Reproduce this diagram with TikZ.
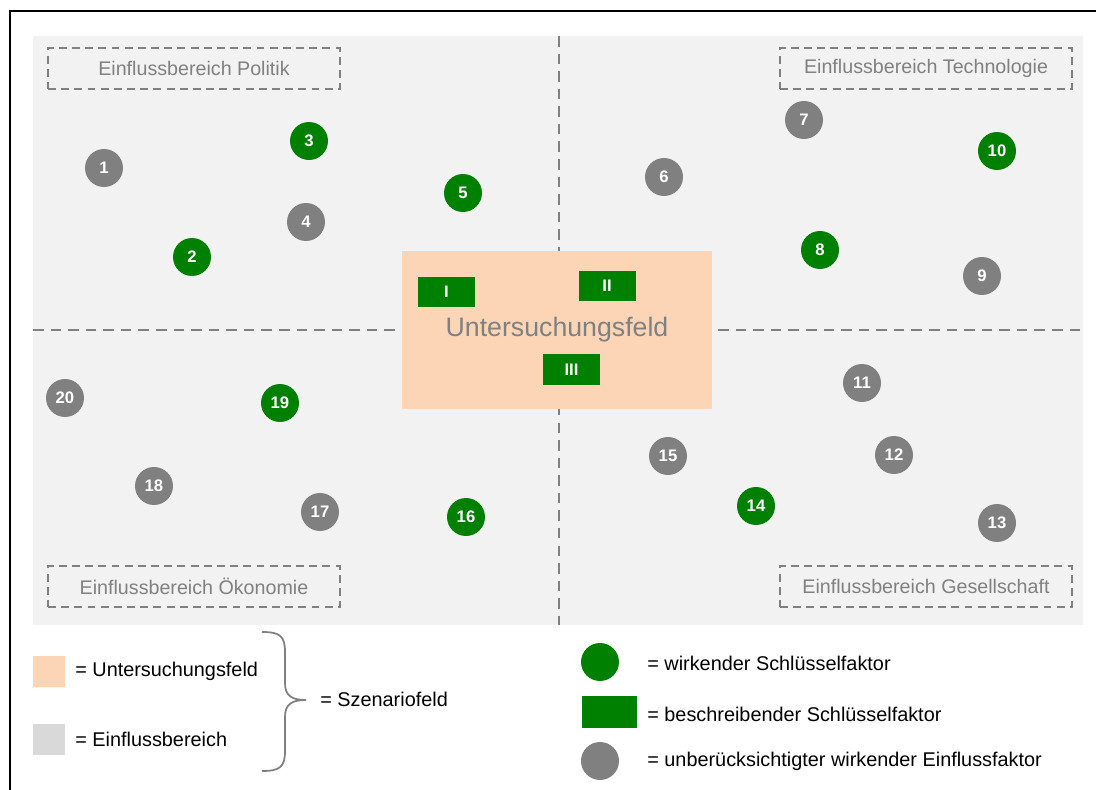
\documentclass[tikz,border=0pt]{standalone}
\usepackage{fontspec}
\setmainfont{Liberation Sans}
\definecolor{kgreen}{HTML}{008000}
\definecolor{kgrey}{HTML}{808080}
\definecolor{bggrey}{HTML}{F2F2F2}
\definecolor{peach}{HTML}{FBD5B5}
\definecolor{lgrey}{HTML}{D9D9D9}

\begin{document}
\begin{tikzpicture}[x=0.02cm, y=-0.02cm,
  factor/.style={circle, minimum size=0.76cm, inner sep=0pt, text=white,
    font=\fontsize{9.5}{10}\selectfont\bfseries},
  szenario/.style={fill=kgreen, minimum width=1.14cm, minimum height=0.62cm,
    inner sep=0pt, text=white, font=\fontsize{9.5}{10}\selectfont\bfseries},
  bereich/.style={draw=kgrey, line width=1pt, dash pattern=on 4.5pt off 3pt,
    minimum width=5.84cm, minimum height=0.82cm, text=kgrey,
    font=\fontsize{11.2}{13}\selectfont},
  legtext/.style={anchor=west, inner sep=0pt, font=\fontsize{11.3}{13}\selectfont}]
  \useasboundingbox (0,0) rectangle (1096,790);
  % frame and background
  \draw[line width=1.7pt] (10,790) -- (10,11) -- (1096,11);
  \fill[bggrey] (33,36) rectangle (1083,625);
  \draw[kgrey, line width=1.3pt, dash pattern=on 6pt off 4pt] (559,36) -- (559,625);
  \draw[kgrey, line width=1.3pt, dash pattern=on 6pt off 4pt] (33,330) -- (1083,330);
  % Einflussbereiche
  \node[bereich] (politik) at (194,68.5) {Einflussbereich Politik};
  \node[bereich] (technologie) at (926,68.5) {Einflussbereich Technologie};
  \node[bereich] (oekonomie) at (194,586.5) {Einflussbereich Ökonomie};
  \node[bereich] (gesellschaft) at (926,586.5) {Einflussbereich Gesellschaft};
  % Untersuchungsfeld
  \node[fill=peach, minimum width=6.2cm, minimum height=3.16cm, text=kgrey,
    font=\fontsize{15.2}{18}\selectfont] (feld) at (557,330) {Untersuchungsfeld};
  \node[szenario] (s1) at (446.5,292) {I};
  \node[szenario] (s2) at (607,286) {II};
  \node[szenario] (s3) at (571.5,369.5) {III};
  % Einflussfaktoren
  \foreach \n/\x/\y/\c in {1/104/168/kgrey, 2/192/257/kgreen, 3/309/141/kgreen,
      4/306/222/kgrey, 5/463/193/kgreen, 6/664/177/kgrey, 7/804/120/kgrey,
      8/820/250/kgreen, 9/982/276/kgrey, 10/997/151/kgreen, 11/862/383/kgrey,
      12/894/455/kgrey, 13/997/523/kgrey, 14/756/506/kgreen, 15/668/456/kgrey,
      16/466/517/kgreen, 17/320/512/kgrey, 18/154/486/kgrey, 19/280/403/kgreen,
      20/65/398/kgrey}
    \node[factor, fill=\c] (f\n) at (\x,\y) {\n};
  % legend left
  \node[fill=peach, minimum size=0.64cm, inner sep=0pt] (lfeld) at (49,671.5) {};
  \node[legtext] (tfeld) at (75,671.5) {= Untersuchungsfeld};
  \node[fill=lgrey, minimum size=0.64cm, inner sep=0pt] (lbereich) at (49,739.5) {};
  \node[legtext] (tbereich) at (75,739.5) {= Einflussbereich};
  \draw[kgrey, line width=1pt] (262,632) .. controls (280,632) and (285,636) .. (285,652)
    -- (285,683) .. controls (285,696) and (292,700) .. (306,700)
    .. controls (292,700) and (285,704) .. (285,717)
    -- (285,751) .. controls (285,767) and (280,771) .. (262,771);
  \node[legtext] (tszenario) at (320,699) {= Szenariofeld};
  % legend right
  \node[factor, fill=kgreen] (lwirk) at (600,662) {};
  \node[legtext] (twirk) at (647,663) {= wirkender Schlüsselfaktor};
  \node[szenario, minimum width=1.1cm, minimum height=0.64cm] (lbeschr) at (609.5,712) {};
  \node[legtext] (tbeschr) at (647,714) {= beschreibender Schlüsselfaktor};
  \node[factor, fill=kgrey] (lunber) at (600,761) {};
  \node[legtext] (tunber) at (647,761) {= unberücksichtigter wirkender Einflussfaktor};
\end{tikzpicture}
\end{document}
